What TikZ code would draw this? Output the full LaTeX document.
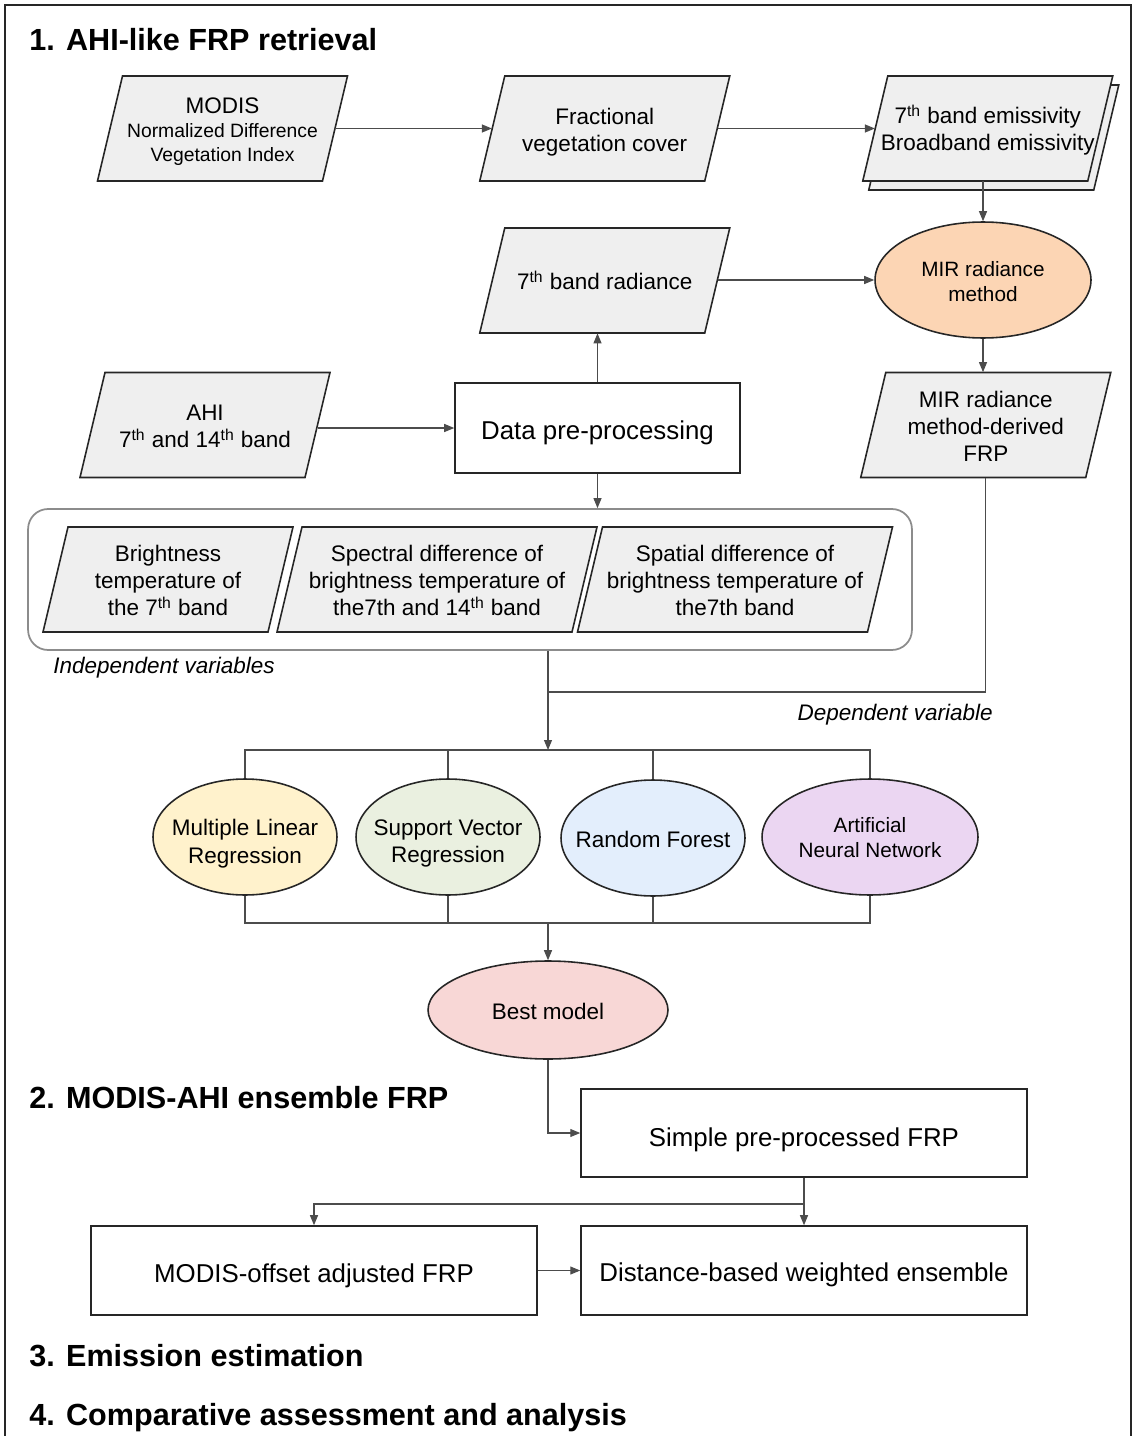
\documentclass[tikz,border=0pt]{standalone}
\usepackage{fontspec}
\setmainfont{Liberation Sans}
\usetikzlibrary{arrows.meta,shapes.geometric,calc}
\definecolor{pfill}{HTML}{EFEFEF}
\definecolor{cmir}{HTML}{FCD5B4}
\definecolor{cmlr}{HTML}{FFF2CC}
\definecolor{csvr}{HTML}{EAF0E0}
\definecolor{crf}{HTML}{E3EEFC}
\definecolor{cann}{HTML}{EBD6F2}
\definecolor{cbest}{HTML}{F8D7D6}
\newcommand\myfs{\fontsize{12.8}{15.4}\selectfont}
\newcommand\myfm{\fontsize{11.8}{14.2}\selectfont}
\newcommand\myfb{\fontsize{14.7}{17}\selectfont}
\newcommand\myft{\fontsize{17.4}{20}\selectfont\bfseries}
\newcommand\mypara[6]{%
  \draw[pshape] (#2-#4/2+12.5,#3-52.5) -- (#2+#4/2+12.5,#3-52.5) -- (#2+#4/2-12.5,#3+52.5) -- (#2-#4/2-12.5,#3+52.5) -- cycle;
  \node[ptext, minimum width=#4*0.02cm] (#1) at (#2,#3) {};
  \node[align=center, font=\myfs, inner sep=0pt, #5] (#1-t) at (#1.center) {#6};
}
% ellipse: name, position, width, height, fill, text options, text
\newcommand\myell[7]{%
  \node[ell, fill=#5, minimum width=#3, minimum height=#4] (#1) at (#2) {};
  \node[align=center, inner sep=0pt, #6] (#1-t) at (#1.center) {#7};
}
% box: name, position, width, height, text options, text
\newcommand\mybox[6]{%
  \node[box, minimum width=#3, minimum height=#4] (#1) at (#2) {};
  \node[align=center, inner sep=0pt, font=\myfb, #5] (#1-t) at (#1.center) {#6};
}
\tikzset{
  pshape/.style={draw=black!85, fill=pfill, line width=0.9pt},
  ptext/.style={minimum height=2.1cm, inner sep=0pt},
  ell/.style={ellipse, draw=black!85, line width=0.9pt, inner sep=0pt},
  box/.style={draw=black!85, line width=0.9pt, inner sep=0pt},
  conn/.style={draw=black!70, line width=0.6pt},
  arr/.style={conn, -{Triangle[length=2mm,width=1.6mm]}},
  ttl/.style={anchor=west, font=\myft, inner sep=0pt},
  lbl/.style={font=\myfs\itshape, inner sep=0pt},
}
\begin{document}
\begin{tikzpicture}[x={(0.02cm,0)}, y={(0,-0.02cm)}]
\useasboundingbox (0,0) rectangle (1134,1436);
% frame
\draw[black!85, line width=0.8pt] (5,1440) -- (5,5) -- (1131,5) -- (1131,1440);
% titles
\node[ttl] (t1) at (29,40) {1. AHI-like FRP retrieval};
\node[ttl] (t2) at (29,1098) {2. MODIS-AHI ensemble FRP};
\node[ttl] (t3) at (29,1356) {3. Emission estimation};
\node[ttl] (t4) at (29,1418) {4. Comparative assessment and analysis};

% top row
\mypara{modis}{222.5}{128.5}{225}{font=\fontsize{11}{13.6}\selectfont, yshift=-1.8pt}{{\myfs MODIS}\\Normalized Difference\\Vegetation Index}
\mypara{fvc}{604.75}{128.5}{225}{yshift=-2pt}{Fractional\\vegetation cover}
\draw[pshape] (987.75-112.5+12.5+6,128.5-52.5+9) -- (987.75+112.5+12.5+6,128.5-52.5+9) -- (987.75+112.5-12.5+6,128.5+52.5+9) -- (987.75-112.5-12.5+6,128.5+52.5+9) -- cycle;
\mypara{emis}{987.75}{128.5}{225}{yshift=-1pt}{7\textsuperscript{th} band emissivity\\Broadband emissivity}

\mypara{rad}{604.75}{280.5}{225}{}{7\textsuperscript{th} band radiance}
\myell{mir}{983,280}{4.32cm}{2.32cm}{cmir}{font=\myfm, yshift=-1pt}{MIR radiance\\method}

\mypara{ahi}{205}{425}{225}{yshift=-1pt}{AHI\\7\textsuperscript{th} and 14\textsuperscript{th} band}
\mybox{dpp}{597.5,428}{5.7cm}{1.8cm}{yshift=-2.5pt}{Data pre-processing}
\mypara{mirfrp}{985.75}{425}{225}{yshift=-1pt}{MIR radiance\\method-derived\\FRP}

% group of independent variables
\node[draw=black!45, line width=1pt, rounded corners=0.4cm, minimum width=17.68cm, minimum height=2.82cm] (grp) at (470,579.5) {};
\mypara{bt}{168}{579.5}{225}{yshift=-0.6pt}{Brightness\\temperature of\\the 7\textsuperscript{th} band}
\mypara{spec}{437}{579.5}{295}{yshift=-0.6pt}{Spectral difference of\\brightness temperature of\\the7th and 14\textsuperscript{th} band}
\mypara{spat}{735}{579.5}{290}{yshift=-0.6pt}{Spatial difference of\\brightness temperature of\\the7th band}
\node[lbl, anchor=west] (indep) at (53,668) {Independent variables};
\node[lbl, anchor=east] (dep) at (993,715) {Dependent variable};

% models
\myell{mlr}{245,837}{3.68cm}{2.32cm}{cmlr}{font=\myfs, yshift=-3.8pt}{Multiple Linear\\Regression}
\myell{svr}{448,837}{3.68cm}{2.32cm}{csvr}{font=\myfs, yshift=-3.8pt}{Support Vector\\Regression}
\myell{rf}{653,838}{3.68cm}{2.32cm}{crf}{font=\myfs, yshift=-1pt}{Random Forest}
\myell{ann}{870,837}{4.32cm}{2.32cm}{cann}{font=\myfm, yshift=-0.6pt}{Artificial\\Neural Network}
\myell{best}{548,1010}{4.8cm}{1.96cm}{cbest}{font=\myfs, yshift=-0.6pt}{Best model}

% section 2 boxes
\mybox{simple}{804,1133}{8.92cm}{1.76cm}{yshift=-3.8pt}{Simple pre-processed FRP}
\mybox{modoff}{314,1270.5}{8.92cm}{1.78cm}{yshift=-2.8pt}{MODIS-offset adjusted FRP}
\mybox{dist}{804,1270.5}{8.92cm}{1.78cm}{yshift=-2.3pt}{Distance-based weighted ensemble}

% connectors
\draw[arr] (modis.east) -- (fvc.west);
\draw[arr] (fvc.east) -- (emis.west);
\draw[arr] (emis.south -| mir.north) -- (mir.north);
\draw[arr] (rad.east |- mir.west) -- (mir.west);
\draw[arr] (mir.south) -- (mir.south |- mirfrp.north);
\draw[arr] (ahi.east |- dpp.west) -- (dpp.west);
\draw[arr] (dpp.north) -- (dpp.north |- rad.south);
\draw[arr] (dpp.south) -- (dpp.south |- grp.north);

\coordinate (j1) at (548,692);
\coordinate (topbar) at (548,750);
\coordinate (botbar) at (548,923);
\draw[conn] (j1 |- grp.south) -- (j1);
\draw[conn] (mirfrp.south) |- (j1);
\draw[arr] (j1) -- (topbar);
\draw[conn] (mlr.north) -- (mlr.north |- topbar) -- (ann.north |- topbar) -- (ann.north);
\draw[conn] (svr.north) -- (svr.north |- topbar);
\draw[conn] (rf.north) -- (rf.north |- topbar);
\draw[conn] (mlr.south) -- (mlr.south |- botbar) -- (ann.south |- botbar) -- (ann.south);
\draw[conn] (svr.south) -- (svr.south |- botbar);
\draw[conn] (rf.south) -- (rf.south |- botbar);
\draw[arr] (botbar) -- (best.north);
\draw[arr] (best.south) |- (simple.west);

\coordinate (j2) at (804,1204);
\draw[conn] (simple.south) -- (j2);
\draw[arr] (j2) -- (dist.north);
\draw[arr] (j2) -| (modoff.north);
\draw[arr] (modoff.east) -- (dist.west);
\end{tikzpicture}
\end{document}
